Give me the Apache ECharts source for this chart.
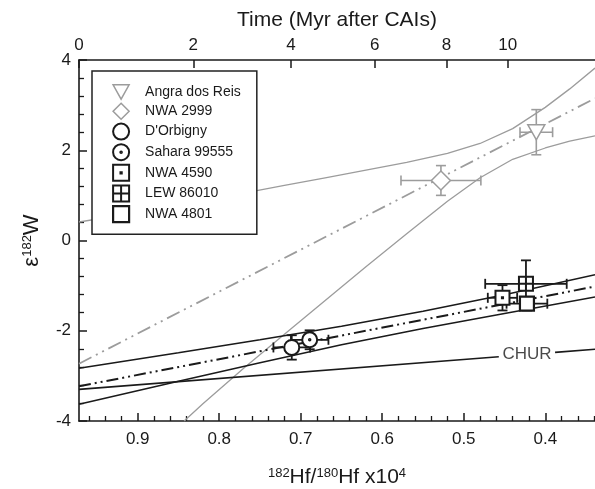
<!DOCTYPE html>
<html>
<head>
<meta charset="utf-8">
<script src="https://cdn.jsdelivr.net/npm/echarts@6/dist/echarts.min.js"></script>
<style>
html, body { margin: 0; padding: 0; background: #fff; }
#main { width: 595px; height: 489px; }
</style>
</head>
<body>
<div id="main"></div>
<script>
// samples and their 182Hf/180Hf (x10^4) and e182W values
var samples = ['Angra dos Reis', 'NWA 2999', "D'Orbigny", 'Sahara 99555', 'NWA 4590', 'LEW 86010', 'NWA 4801'];
var hfRatio = [0.411, 0.528, 0.711, 0.689, 0.4525, 0.4237, 0.4225];
var eW      = [2.40, 1.33, -2.37, -2.20, -1.27, -0.96, -1.40];
var hfErr   = [0.020, 0.049, 0.0225, 0.023, 0.018, 0.050, 0.025];
var eWErr   = [0.50, 0.33, 0.27, 0.21, 0.28, 0.52, 0.15];

// grey isochron (angra dos reis + nwa 2999) and its envelope
var greyIsoX = [0.972, 0.339];
var greyIsoY = [-2.73, 3.15];
var greyUpX = [0.972, 0.92, 0.87, 0.82, 0.77, 0.72, 0.67, 0.62, 0.57, 0.52, 0.48, 0.44, 0.40, 0.37, 0.339];
var greyUpY = [0.41, 0.56, 0.72, 0.89, 1.05, 1.22, 1.39, 1.56, 1.73, 1.93, 2.15, 2.48, 2.95, 3.36, 3.82];
var greyLoX = [0.843, 0.82, 0.77, 0.72, 0.67, 0.62, 0.57, 0.52, 0.48, 0.44, 0.40, 0.37, 0.339];
var greyLoY = [-4.0, -3.62, -2.83, -2.08, -1.33, -0.58, 0.15, 0.87, 1.39, 1.80, 2.05, 2.20, 2.32];

// black isochron (quenched angrites) and its envelope
var blackIsoX = [0.972, 0.339];
var blackIsoY = [-3.23, -1.02];
var blackEnvX = [0.972, 0.85, 0.75, 0.65, 0.55, 0.45, 0.339];
var blackUpY  = [-2.83, -2.49, -2.20, -1.90, -1.57, -1.20, -0.76];
var blackLoY  = [-3.63, -3.12, -2.71, -2.31, -1.95, -1.62, -1.25];

// CHUR reference line, broken where its label sits
var churX = [0.972, 0.457, 0.388, 0.339];
var churY = [-3.30, -2.576, -2.479, -2.41];
var churLabelAt = [0.4225, -2.53];

// axis ticks
var hfTicks = [0.9, 0.8, 0.7, 0.6, 0.5, 0.4];
var hfMinorTicks = [0.96, 0.94, 0.92, 0.88, 0.86, 0.84, 0.82, 0.78, 0.76, 0.74, 0.72, 0.68, 0.66, 0.64, 0.62,
  0.58, 0.56, 0.54, 0.52, 0.48, 0.46, 0.44, 0.42, 0.38, 0.36, 0.34];
var timeTicks = [0, 2, 4, 6, 8, 10];

var xMin = 0.339, xMax = 0.972;
var R0 = 0.972;                       // 182Hf/180Hf at CAIs (x10^4)
var lambda = Math.LN2 / 8.9;          // 182Hf decay constant, per Myr
var timePos = timeTicks.map(function (t) { return R0 * Math.exp(-lambda * t); });

var FONT = "'Liberation Sans', Arial, sans-serif";
var INK = '#1a1a1a';
var GREY = '#9c9c9c';

function pairs(xs, ys) {
  return xs.map(function (x, i) { return [x, ys[i]]; });
}

var symbols = [
  'triangle', 'diamond', 'circle',
  'path://M10,0A10,10,0,1,1,10,20A10,10,0,1,1,10,0ZM10,9A1,1,0,1,1,10,11A1,1,0,1,1,10,9Z',
  'path://M0,0L20,0L20,20L0,20ZM9.2,9.2L10.8,9.2L10.8,10.8L9.2,10.8Z',
  'path://M0,0L20,0L20,20L0,20ZM10,0L10,20M0,10L20,10',
  'rect'
];
var legendIcons = symbols.slice();
legendIcons[0] = 'path://M0,0L20,0L10,18Z';
var symbolSizes = [[17, 15], [19, 19], 15, 15, 14, 14, 14];
var colors = [GREY, GREY, INK, INK, INK, INK, INK];
var borders = [1.5, 1.5, 2, 2, 2, 2, 2.2];

function dashLine(xs, ys, color, width, type, z) {
  return {
    type: 'line', data: pairs(xs, ys), showSymbol: false, silent: true, z: z,
    lineStyle: { color: color, width: width, type: type }
  };
}

function renderErr(params, api) {
  var x = api.value(0), y = api.value(1), dx = api.value(2), dy = api.value(3);
  var color = api.value(4) ? GREY : INK;
  var l = api.coord([x + dx, y]);
  var r = api.coord([x - dx, y]);
  var t = api.coord([x, y + dy]);
  var b = api.coord([x, y - dy]);
  var cap = 5;
  var st = { stroke: color, lineWidth: api.value(4) ? 1.6 : 1.8 };
  function seg(x1, y1, x2, y2) {
    return { type: 'line', shape: { x1: x1, y1: y1, x2: x2, y2: y2 }, style: st };
  }
  return {
    type: 'group',
    children: [
      seg(l[0], l[1], r[0], r[1]),
      seg(l[0], l[1] - cap, l[0], l[1] + cap),
      seg(r[0], r[1] - cap, r[0], r[1] + cap),
      seg(t[0], t[1], b[0], b[1]),
      seg(t[0] - cap, t[1], t[0] + cap, t[1]),
      seg(b[0] - cap, b[1], b[0] + cap, b[1])
    ]
  };
}

var series = [
  dashLine(greyUpX, greyUpY, GREY, 1.3, 'solid', 1),
  dashLine(greyLoX, greyLoY, GREY, 1.3, 'solid', 1),
  dashLine(greyIsoX, greyIsoY, GREY, 1.8, [14, 5, 2, 5, 2, 5], 1),
  dashLine(blackEnvX, blackUpY, INK, 1.5, 'solid', 2),
  dashLine(blackEnvX, blackLoY, INK, 1.5, 'solid', 2),
  dashLine(blackIsoX, blackIsoY, INK, 2, [12, 4, 2, 4, 2, 4], 2),
  dashLine(churX.slice(0, 2), churY.slice(0, 2), INK, 1.6, 'solid', 2),
  dashLine(churX.slice(2), churY.slice(2), INK, 1.6, 'solid', 2),
  {
    type: 'scatter', data: [churLabelAt], symbolSize: 0, silent: true, z: 2,
    label: { show: true, position: 'inside', formatter: 'CHUR', fontSize: 17, color: INK, fontFamily: FONT }
  },
  {
    type: 'custom', name: 'errors', renderItem: renderErr, z: 3, silent: true,
    encode: { x: 0, y: 1 },
    data: samples.map(function (n, i) {
      return [hfRatio[i], eW[i], hfErr[i], eWErr[i], i < 2 ? 1 : 0];
    })
  }
];

samples.forEach(function (name, i) {
  series.push({
    type: 'scatter', name: name, z: 4,
    data: [[hfRatio[i], eW[i]]],
    symbol: symbols[i], symbolSize: symbolSizes[i], symbolRotate: i === 0 ? 180 : 0,
    itemStyle: { color: '#fff', borderColor: colors[i], borderWidth: borders[i], opacity: 1 }
  });
});

var chart = echarts.init(document.getElementById('main'));
chart.setOption({
  animation: false,
  backgroundColor: '#fff',
  textStyle: { fontFamily: FONT },
  grid: { left: 79, right: 0, top: 60, bottom: 68, outerBoundsMode: 'none' },
  legend: {
    data: samples.map(function (n, i) {
      return {
        name: n, icon: legendIcons[i],
        itemStyle: { color: '#fff', borderColor: colors[i], borderWidth: borders[i] }
      };
    }),
    orient: 'vertical', left: 92, top: 71,
    itemWidth: 16, itemHeight: 16, itemGap: 2.6,
    padding: [13, 16, 11, 20],
    borderColor: '#222', borderWidth: 1.5, backgroundColor: '#fff',
    textStyle: { fontSize: 14, color: INK, fontFamily: FONT, padding: [0, 0, 0, 11] },
    selectedMode: false, z: 10
  },
  xAxis: [
    {
      type: 'value', position: 'bottom', min: xMin, max: xMax, inverse: true,
      name: '{s|182}Hf/{s|180}Hf x10{s|4}', nameLocation: 'middle', nameGap: 46,
      nameTextStyle: {
        fontSize: 21, color: INK, fontFamily: FONT,
        rich: { s: { fontSize: 13, verticalAlign: 'top', color: INK, fontFamily: FONT } }
      },
      axisLine: { onZero: false, lineStyle: { color: INK, width: 1.6 } },
      axisTick: { inside: true, length: 8, customValues: hfTicks, lineStyle: { color: INK, width: 1.5 } },
      axisLabel: { customValues: hfTicks, fontSize: 17, color: INK, margin: 10, fontFamily: FONT },
      splitLine: { show: false }
    },
    {
      type: 'value', position: 'top', min: xMin, max: xMax, inverse: true,
      name: 'Time (Myr after CAIs)', nameLocation: 'middle', nameGap: 29,
      nameTextStyle: { fontSize: 21, color: INK, fontFamily: FONT },
      axisLine: { onZero: false, lineStyle: { color: INK, width: 1.6 } },
      axisTick: { inside: true, length: 8, customValues: timePos, lineStyle: { color: INK, width: 1.5 } },
      axisLabel: {
        customValues: timePos, fontSize: 17, color: INK, margin: 6, fontFamily: FONT,
        formatter: function (v) { return String(Math.round(Math.log(R0 / v) / lambda)); }
      },
      splitLine: { show: false }
    },
    {
      type: 'value', position: 'bottom', min: xMin, max: xMax, inverse: true,
      axisLine: { show: false, onZero: false },
      axisTick: { inside: true, length: 5, customValues: hfMinorTicks, lineStyle: { color: INK, width: 1.3 } },
      axisLabel: { show: false },
      splitLine: { show: false }
    }
  ],
  yAxis: {
    type: 'value', min: -4, max: 4, interval: 2,
    name: '{a|ε}{s|182}{a|W}', nameLocation: 'middle', nameRotate: 90, nameGap: 36,
    nameTextStyle: {
      fontSize: 22, color: INK, fontFamily: FONT,
      rich: {
        a: { fontSize: 22, color: INK, fontFamily: FONT },
        s: { fontSize: 13, verticalAlign: 'top', color: INK, fontFamily: FONT }
      }
    },
    axisLine: { show: true, onZero: false, lineStyle: { color: INK, width: 1.6 } },
    axisTick: { inside: true, length: 8, lineStyle: { color: INK, width: 1.5 } },
    minorTick: { show: true, splitNumber: 5, length: 5, lineStyle: { color: INK, width: 1.3 } },
    axisLabel: { fontSize: 17, color: INK, margin: 8, fontFamily: FONT },
    splitLine: { show: false }
  },
  series: series
});
</script>
</body>
</html>
